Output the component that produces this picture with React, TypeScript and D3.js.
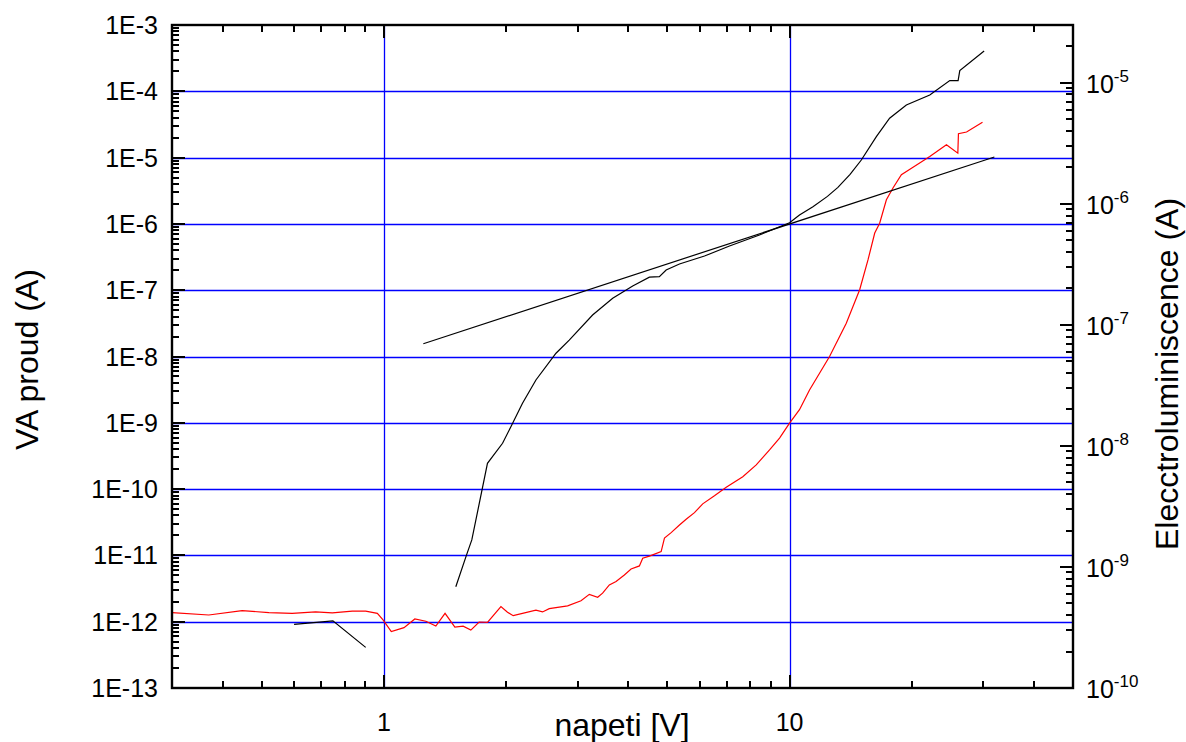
import React from 'react';
import * as d3 from 'd3';

// ---- data ----
const voltageBlackLow = [0.6, 0.748, 0.901];
const currentBlackLow = [9.1e-13, 1.03e-12, 4.1e-13];

const voltageBlack = [1.503, 1.597, 1.646, 1.799, 1.96, 2.055, 2.195, 2.369, 2.655, 2.862, 3.268, 3.663, 4.104, 4.512, 4.775, 4.962, 5.352, 6.17, 7.11, 8.43, 10, 10.58, 11.42, 12.4, 13.16, 14.1, 15.03, 16.37, 17.65, 19.41, 22.17, 24.84, 26.04, 26.29, 30.19];
const currentBlack = [3.37e-12, 1.01e-11, 1.71e-11, 2.45e-10, 4.91e-10, 8.73e-10, 1.97e-9, 4.42e-9, 1.12e-8, 1.77e-8, 4.23e-8, 7.55e-8, 1.16e-7, 1.57e-7, 1.6e-7, 2.02e-7, 2.48e-7, 3.28e-7, 4.65e-7, 6.81e-7, 1.04e-6, 1.36e-6, 1.82e-6, 2.6e-6, 3.56e-6, 5.6e-6, 9.2e-6, 2.07e-5, 3.92e-5, 6.21e-5, 8.79e-5, 1.45e-4, 1.45e-4, 2.05e-4, 4.06e-4];

const fitVoltage = [1.25, 32];
const fitCurrent = [1.56e-8, 1.02e-5];

const voltageRed = [0.3, 0.3697, 0.4468, 0.52, 0.5936, 0.678, 0.7454, 0.835, 0.901, 0.9627, 0.9943, 1.042, 1.12, 1.191, 1.268, 1.342, 1.414, 1.495, 1.567, 1.637, 1.716, 1.799, 1.942, 2.016, 2.082, 2.195, 2.369, 2.46, 2.555, 2.836, 3.06, 3.208, 3.364, 3.459, 3.594, 3.734, 3.914, 4.066, 4.263, 4.344, 4.512, 4.823, 4.915, 5.105, 5.352, 5.559, 5.828, 6.107, 6.528, 6.98, 7.668, 8.276, 8.926, 9.447, 10, 10.58, 11.2, 12.55, 13.8, 14.89, 15.61, 16.22, 16.68, 17.33, 17.99, 18.87, 20.16, 22.17, 24.37, 26.0, 26.09, 27.32, 29.91];
const elRed = [4.19e-10, 4.01e-10, 4.36e-10, 4.19e-10, 4.14e-10, 4.25e-10, 4.17e-10, 4.31e-10, 4.31e-10, 4.14e-10, 3.65e-10, 2.92e-10, 3.15e-10, 3.72e-10, 3.56e-10, 3.25e-10, 4.14e-10, 3.18e-10, 3.24e-10, 3.01e-10, 3.51e-10, 3.49e-10, 4.7e-10, 4.23e-10, 3.96e-10, 4.14e-10, 4.39e-10, 4.25e-10, 4.52e-10, 4.77e-10, 5.26e-10, 5.94e-10, 5.62e-10, 6.07e-10, 7.1e-10, 7.57e-10, 8.59e-10, 9.62e-10, 1.02e-9, 1.18e-9, 1.23e-9, 1.34e-9, 1.73e-9, 1.92e-9, 2.22e-9, 2.48e-9, 2.81e-9, 3.32e-9, 3.87e-9, 4.56e-9, 5.57e-9, 6.97e-9, 9.27e-9, 1.16e-8, 1.54e-8, 1.99e-8, 2.9e-8, 5.47e-8, 1.03e-7, 1.95e-7, 3.44e-7, 5.73e-7, 6.92e-7, 1.08e-6, 1.35e-6, 1.74e-6, 2.0e-6, 2.46e-6, 3.08e-6, 2.62e-6, 3.79e-6, 3.92e-6, 4.72e-6];

const xMajorTicks = [1, 10];
const xTickLabels = ['1', '10'];
const leftExponents = [-13, -12, -11, -10, -9, -8, -7, -6, -5, -4, -3];
const leftTickLabels = ['1E-13', '1E-12', '1E-11', '1E-10', '1E-9', '1E-8', '1E-7', '1E-6', '1E-5', '1E-4', '1E-3'];
const rightExponents = [-10, -9, -8, -7, -6, -5];
const rightTickBase = '10';
const rightTickSup = ['-10', '-9', '-8', '-7', '-6', '-5'];

const xTitle = 'napeti [V]';
const yLeftTitle = 'VA proud (A)';
const yRightTitle = 'Elecctroluminiscence (A)';

// ---- layout ----
const W = 1186, H = 742;
const L = 172, R = 1073, T = 25, B = 688;
const FONT = '"Liberation Sans", Arial, Helvetica, sans-serif';

function minorTicks(domain: [number, number]) {
  const out: number[] = [];
  const e0 = Math.floor(Math.log10(domain[0])) - 1;
  const e1 = Math.ceil(Math.log10(domain[1])) + 1;
  for (let e = e0; e <= e1; e++) {
    for (let k = 2; k <= 9; k++) {
      const v = k * Math.pow(10, e);
      if (v > domain[0] * 1.0001 && v < domain[1] * 0.9999) out.push(v);
    }
  }
  return out;
}

type Box = { x: number; y: number; w: number; h: number };

export default function App() {
  const xDomain: [number, number] = [0.3, 50];
  const lDomain: [number, number] = [1e-13, 1e-3];
  const rDomain: [number, number] = [1e-10, 3e-5];
  const x = d3.scaleLog().domain(xDomain).range([L, R]);
  const yL = d3.scaleLog().domain(lDomain).range([B, T]);
  const yR = d3.scaleLog().domain(rDomain).range([B, T]);

  const lineL = d3.line<[number, number]>().x(d => x(d[0])).y(d => yL(d[1]));
  const lineR = d3.line<[number, number]>().x(d => x(d[0])).y(d => yR(d[1]));

  const blackLow = voltageBlackLow.map((v, i) => [v, currentBlackLow[i]] as [number, number]);
  const black = voltageBlack.map((v, i) => [v, currentBlack[i]] as [number, number]);
  const fit = fitVoltage.map((v, i) => [v, fitCurrent[i]] as [number, number]);
  const red = voltageRed.map((v, i) => [v, elRed[i]] as [number, number]);

  const xMinor = minorTicks(xDomain);
  const lMinor = minorTicks(lDomain);
  const rMinor = minorTicks(rDomain);
  const lMajor = leftExponents.map(e => Math.pow(10, e));
  const rMajor = rightExponents.map(e => Math.pow(10, e));

  const MAJ = 13, MIN = 7, TW = 2;
  const boxes: Box[] = [];
  const vt = (px: number, len: number) => {
    const cx = Math.round(px) - TW / 2;
    boxes.push({ x: cx, y: B - len, w: TW, h: len });
    boxes.push({ x: cx, y: T, w: TW, h: len });
  };
  const ht = (side: 'l' | 'r', py: number, len: number) => {
    const cy = Math.round(py) - TW / 2;
    if (side === 'l') boxes.push({ x: L, y: cy, w: len, h: TW });
    else boxes.push({ x: R - len, y: cy, w: len, h: TW });
  };
  xMajorTicks.forEach(v => vt(x(v), MAJ));
  xMinor.forEach(v => vt(x(v), MIN));
  lMajor.forEach(v => ht('l', yL(v), MAJ));
  lMinor.forEach(v => ht('l', yL(v), MIN));
  rMajor.forEach(v => ht('r', yR(v), MAJ));
  rMinor.forEach(v => ht('r', yR(v), MIN));

  const gp = d3.path();
  lMajor.filter(v => v > lDomain[0] && v < lDomain[1]).forEach(v => {
    const py = Math.round(yL(v)) + 0.5; gp.moveTo(L, py); gp.lineTo(R, py);
  });
  xMajorTicks.forEach(v => { const px = Math.round(x(v)) + 0.5; gp.moveTo(px, T); gp.lineTo(px, B); });
  const gridPath = gp.toString();

  return (
    <svg width={W} height={H} style={{ position: 'absolute', left: 0, top: 0, background: '#fff' }} fontFamily={FONT}>
      <rect x={0} y={0} width={W} height={H} fill="#fff" />
      <defs>
        <clipPath id="plot"><rect x={L} y={T} width={R - L} height={B - T} /></clipPath>
      </defs>
      <path d={gridPath} fill="none" stroke="#0000ff" strokeWidth={1.3} />
      <g clipPath="url(#plot)">
        <path d={lineR(red) || ''} fill="none" stroke="#ff0000" strokeWidth={1.2} />
        <path d={lineL(fit) || ''} fill="none" stroke="#000000" strokeWidth={1.2} />
        <path d={lineL(black) || ''} fill="none" stroke="#000000" strokeWidth={1.2} />
        <path d={lineL(blackLow) || ''} fill="none" stroke="#000000" strokeWidth={1.2} />
      </g>
      {boxes.map((b, i) => (
        <rect key={'tk' + i} x={b.x} y={b.y} width={b.w} height={b.h} fill="#000000" />
      ))}
      <rect x={L} y={T} width={R - L} height={B - T} fill="none" stroke="#000000" strokeWidth={2.4} />
      {lMajor.map((v, i) => (
        <text key={'lt' + i} x={158} y={yL(v) + 9} textAnchor="end" fontSize={25} fill="#000">{leftTickLabels[i]}</text>
      ))}
      {xMajorTicks.map((v, i) => (
        <text key={'xt' + i} x={x(v)} y={731} textAnchor="middle" fontSize={25} fill="#000">{xTickLabels[i]}</text>
      ))}
      {rMajor.map((v, i) => (
        <text key={'rt' + i} x={1086} y={yR(v) + 10} fontSize={25} fill="#000">
          {rightTickBase}
          <tspan fontSize={17} dy={-11}>{rightTickSup[i]}</tspan>
        </text>
      ))}
      <text x={622} y={736} textAnchor="middle" fontSize={32} fill="#000">{xTitle}</text>
      <text transform={`translate(38,${(T + B) / 2 + 3}) rotate(-90)`} textAnchor="middle" fontSize={32} fill="#000">{yLeftTitle}</text>
      <text transform={`translate(1178,${374}) rotate(-90)`} textAnchor="middle" fontSize={32} fill="#000">{yRightTitle}</text>
    </svg>
  );
}
